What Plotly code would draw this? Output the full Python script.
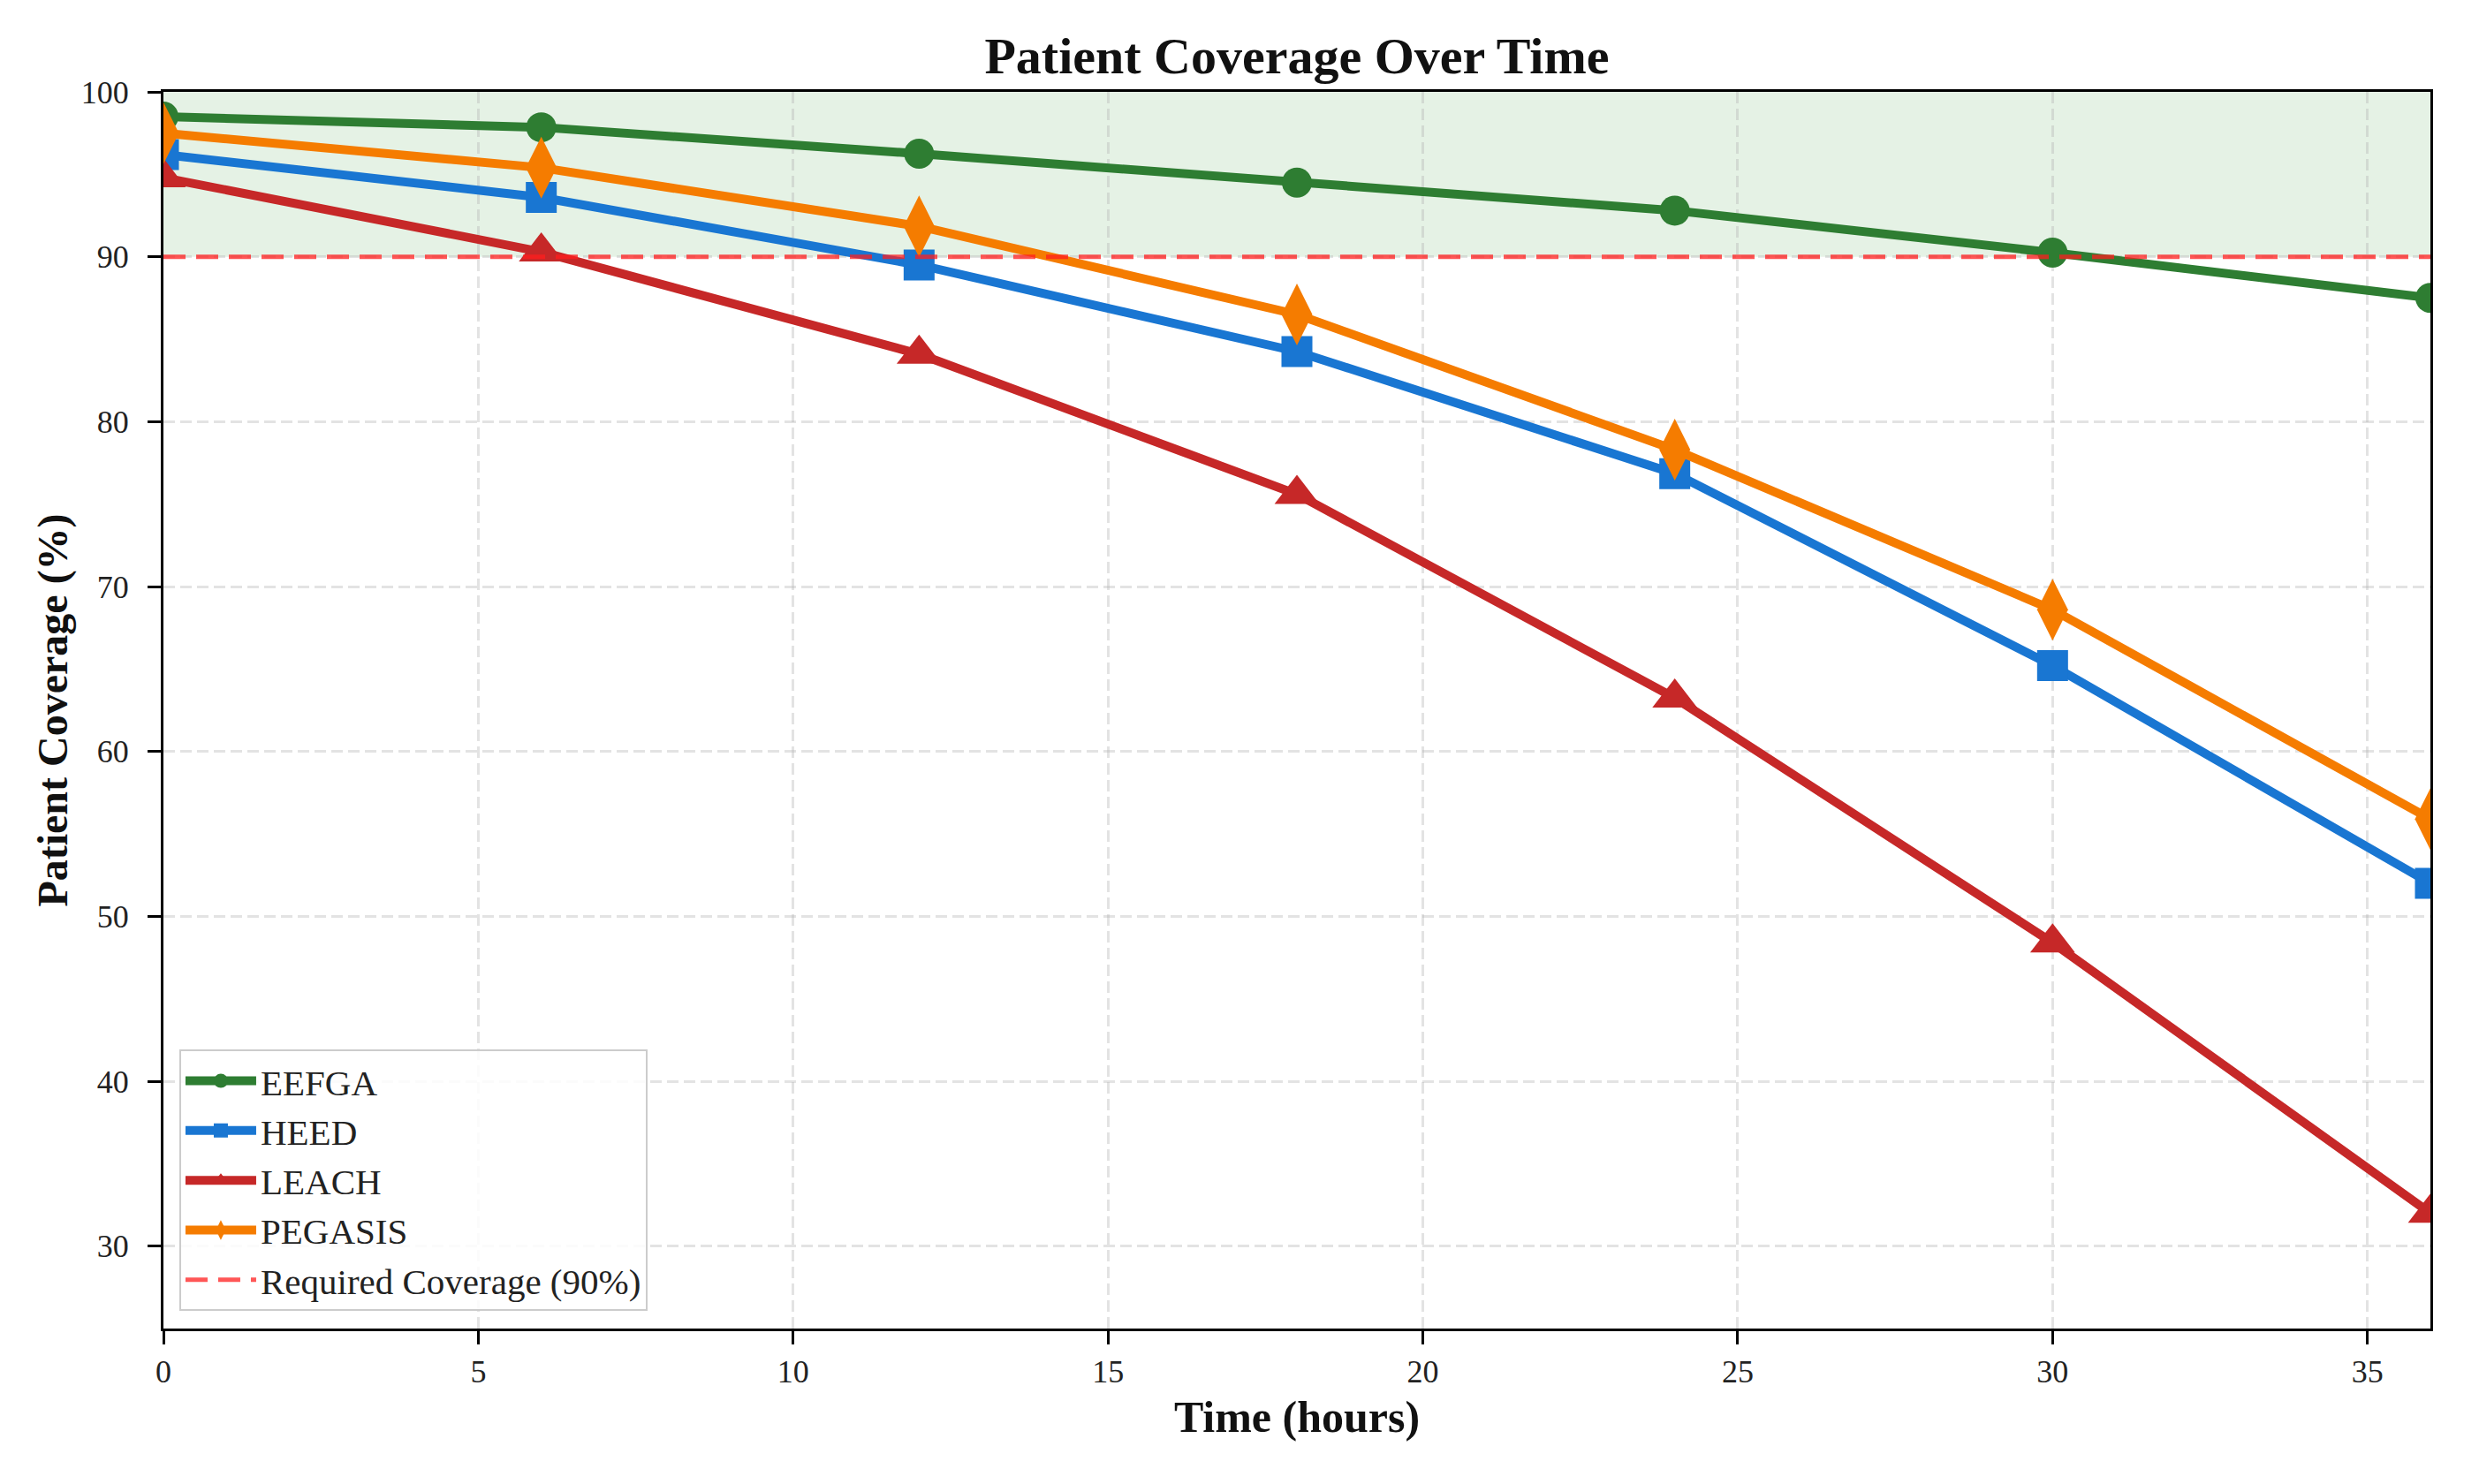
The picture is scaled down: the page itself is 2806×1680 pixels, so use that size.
import plotly.graph_objects as go

# ---- data ----
time_hours = [0, 6, 12, 18, 24, 30, 36]
eefga = [98.5, 97.85, 96.25, 94.5, 92.8, 90.25, 87.5]
heed = [96.2, 93.6, 89.5, 84.25, 76.85, 65.2, 52.0]
leach = [94.8, 90.3, 84.1, 75.6, 63.25, 48.4, 32.0]
pegasis = [97.5, 95.4, 91.85, 86.5, 78.3, 68.6, 55.9]
required_coverage = 90
x_ticks = [0, 5, 10, 15, 20, 25, 30, 35]
y_ticks = [30, 40, 50, 60, 70, 80, 90, 100]

FONT = "Liberation Serif"

series = [
    ("EEFGA", eefga, "#2e7d32", "circle", 34),
    ("HEED", heed, "#1976d2", "square", 35),
    ("LEACH", leach, "#c62828", "triangle-up", 44),
    ("PEGASIS", pegasis, "#f57c00", "diamond-tall", 50),
]

fig = go.Figure()

for name, vals, color, sym, size in series:
    fig.add_trace(go.Scatter(
        x=time_hours, y=vals, name=name, mode="lines+markers",
        line=dict(color=color, width=10),
        marker=dict(symbol=sym, size=size, color=color, line=dict(width=0)),
    ))

fig.add_trace(go.Scatter(
    x=[time_hours[0], time_hours[-1]],
    y=[required_coverage, required_coverage],
    name="Required Coverage (90%)", mode="lines",
    line=dict(color="rgba(255,30,30,0.75)", width=5, dash="25px,12px"),
))

# shaded acceptable region
fig.add_shape(type="rect", xref="paper", x0=0, x1=1, yref="y",
              y0=required_coverage, y1=100, fillcolor="rgba(0,128,0,0.1)",
              line=dict(width=0), layer="below")

axis_common = dict(
    showline=True, linecolor="black", linewidth=3, mirror=True,
    ticks="outside", ticklen=15, tickwidth=2.5, tickcolor="black",
    showgrid=True, gridcolor="rgba(176,176,176,0.35)", gridwidth=2.5,
    griddash="13px,6px", zeroline=False, automargin=False,
    tickfont=dict(family=FONT, size=36, color="#222"),
)

fig.update_xaxes(range=[0, 36], tickvals=x_ticks, ticklabelstandoff=0,
                 title=dict(text="<b>Time (hours)</b>", standoff=14,
                            font=dict(family=FONT, size=50, color="#111")),
                 **axis_common)
fig.update_yaxes(range=[25, 100], tickvals=y_ticks, ticklabelstandoff=14,
                 title=dict(text="<b>Patient Coverage (%)</b>", standoff=0,
                            font=dict(family=FONT, size=48, color="#111")),
                 **axis_common)

W, H = 2790, 1664
fig.update_layout(
    width=W, height=H,
    margin=dict(l=177, r=47, t=96, b=168),
    paper_bgcolor="white", plot_bgcolor="white",
    title=dict(text="<b>Patient Coverage Over Time</b>", x=0.5, xref="paper",
               xanchor="center", y=1 - 55 / H, yref="container", yanchor="middle",
               font=dict(family=FONT, size=58, color="#111")),
    legend=dict(x=0.007, y=0.014, xanchor="left", yanchor="bottom",
                bgcolor="rgba(255,255,255,0.85)", bordercolor="#cccccc", borderwidth=2,
                font=dict(family=FONT, size=41, color="#222"), itemwidth=80,
                tracegroupgap=4),
    showlegend=True,
)

fig.write_html("out.html")
